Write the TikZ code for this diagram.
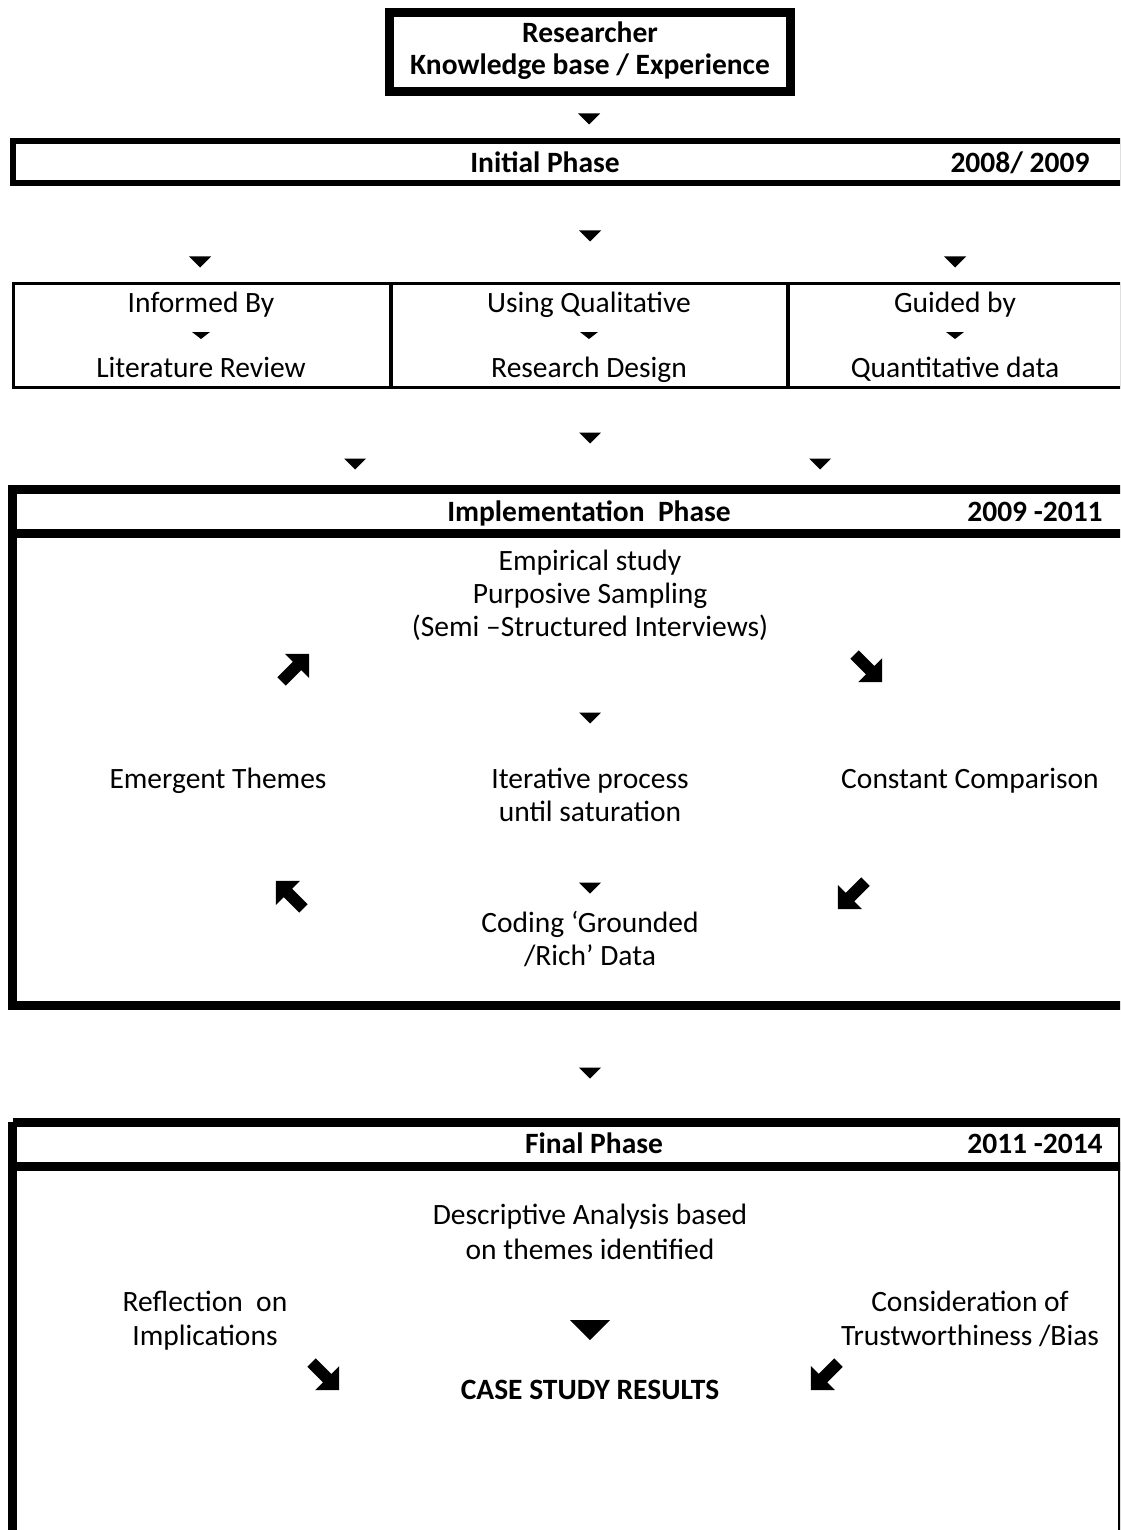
\documentclass[tikz,border=0pt]{standalone}
\usepackage{fontspec}
\setmainfont{Carlito}
\begin{document}
\begin{tikzpicture}[x=1pt,y=-1pt,
  txt/.style={font=\fontsize{29.5}{34}\selectfont, inner sep=0pt, anchor=base},
  btxt/.style={font=\fontsize{29.5}{34}\selectfont\bfseries, inner sep=0pt, anchor=base},
  heavy/.style={draw, line width=9pt},
  medium/.style={draw, line width=6pt},
  light/.style={draw, line width=3.5pt},
  downtri/.pic={\fill (-11,-5.5) -- (11,-5.5) -- (0,5.5) -- cycle;},
  smalltri/.pic={\fill (-9,-3.5) -- (9,-3.5) -- (0,3.5) -- cycle;},
  bigtri/.pic={\fill (-20,-10) -- (20,-10) -- (0,10) -- cycle;},
  blockarrow/.pic={\fill (20,0) -- (3,17) -- (3,6) -- (-19,6) -- (-19,-6) -- (3,-6) -- (3,-17) -- cycle;}
]
\useasboundingbox (0,0) rectangle (1120,1530);
\clip (0,0) rectangle (1120,1530);

% top box
\node[heavy, minimum width=401pt, minimum height=79pt, inner sep=0pt] (top) at (590,52) {};
\node[btxt] (researcher) at (590,43) {Researcher};
\node[btxt] (knowledge) at (590,75) {Knowledge base / Experience};
\pic (a1) at (589,119) {downtri};

% initial phase
\draw[medium] (13,141.5) rectangle (1123,183);
\node[btxt] (initial) at (545,173) {Initial Phase};
\node[btxt] (y1) at (1020,173) {2008/ 2009};
\pic (a2) at (590,236) {downtri};
\pic (a3) at (200,262) {downtri};
\pic (a4) at (955,262) {downtri};

% three columns
\draw[light] (13.5,283.5) rectangle (1122,387.5);
\draw[light] (391,283.5) -- (391,387.5);
\draw[light] (788,283.5) -- (788,387.5);
\node[txt] (informed) at (201,312) {Informed By};
\node[txt] (litrev) at (201,377) {Literature Review};
\node[txt] (usingq) at (589,312) {Using Qualitative};
\node[txt] (resdes) at (589,377) {Research Design};
\node[txt] (guided) at (955,312) {Guided by};
\node[txt] (quant) at (955,377) {Quantitative data};
\pic at (201,335.5) {smalltri};
\pic at (589,335.5) {smalltri};
\pic at (955,335.5) {smalltri};

\pic at (590,438) {downtri};
\pic at (355,464) {downtri};
\pic at (820,464) {downtri};

% implementation phase
\draw[heavy] (12.5,489.5) rectangle (1126,1005);
\draw[heavy] (12.5,533.5) -- (1126,533.5);
\node[btxt] (impl) at (589,521) {Implementation~ Phase};
\node[btxt] (y2) at (1035,521) {2009 -2011};
\node[txt] (emp1) at (590,570) {Empirical study};
\node[txt] (emp2) at (590,603) {Purposive Sampling};
\node[txt] (emp3) at (590,636) {(Semi –Structured Interviews)};
\pic[rotate=45] at (295,668) {blockarrow};
\pic[rotate=-45] at (868,668) {blockarrow};
\pic at (590,718) {downtri};
\node[txt] (emergent) at (218,788) {Emergent Themes};
\node[txt] (iter1) at (590,788) {Iterative process};
\node[txt] (iter2) at (590,821) {until saturation};
\node[txt] (constant) at (970,788) {Constant Comparison};
\pic[rotate=135] at (290,895) {blockarrow};
\pic at (590,888) {downtri};
\pic[rotate=-135] at (852,895) {blockarrow};
\node[txt] (coding1) at (590,932) {Coding ‘Grounded};
\node[txt] (coding2) at (590,965) {/Rich’ Data};

\pic at (590,1073) {downtri};

% final phase
\draw[heavy] (12.5,1122) -- (1122,1122) -- (1122,1545) (12.5,1545) -- (12.5,1122);
\draw[heavy] (12.5,1166) -- (1122,1166);
\node[btxt] (final) at (594,1153) {Final Phase};
\node[btxt] (y3) at (1035,1153) {2011 -2014};
\node[txt] (desc1) at (590,1224) {Descriptive Analysis based};
\node[txt] (desc2) at (590,1259) {on themes identified};
\node[txt] (refl1) at (205,1311) {Reflection~ on};
\node[txt] (refl2) at (205,1345) {Implications};
\node[txt] (cons1) at (970,1311) {Consideration of};
\node[txt] (cons2) at (970,1345) {Trustworthiness /Bias};
\pic at (590,1330) {bigtri};
\pic[rotate=-45] at (325,1376) {blockarrow};
\pic[rotate=-135] at (825,1376) {blockarrow};
\node[btxt] (results) at (590,1399) {CASE STUDY RESULTS};
\end{tikzpicture}
\end{document}
